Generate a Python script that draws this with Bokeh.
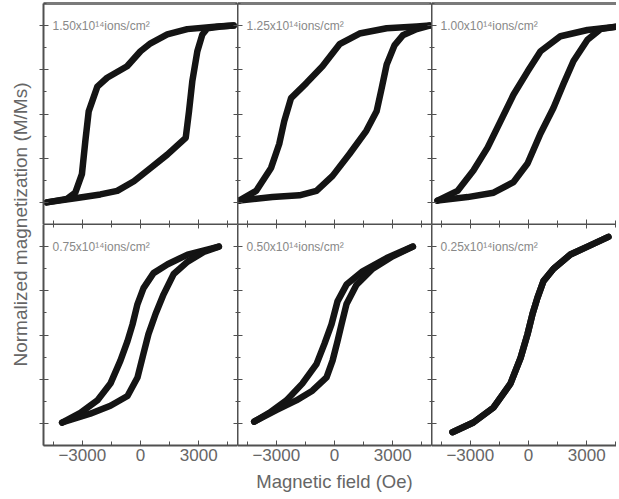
import numpy as np
from bokeh.plotting import figure
from bokeh.layouts import gridplot, row
from bokeh.models import LinearAxis, Range1d, FixedTicker, Label
from bokeh.embed import file_html
from bokeh.resources import INLINE

# ---------------- data ----------------
labels = ["1.50x10\u00b9\u2074ions/cm\u00b2", "1.25x10\u00b9\u2074ions/cm\u00b2", "1.00x10\u00b9\u2074ions/cm\u00b2",
          "0.75x10\u00b9\u2074ions/cm\u00b2", "0.50x10\u00b9\u2074ions/cm\u00b2", "0.25x10\u00b9\u2074ions/cm\u00b2"]

d150_H = [4800, 3970, 2410, 1380, 520, 0, -690, -1720, -2225, -2670, -2845, -3020, -3360, -3790, -4830]
d150_M = [1.0, 0.99, 0.96, 0.90, 0.80, 0.71, 0.54, 0.41, 0.31, 0.03, -0.31, -0.68, -0.89, -0.96, -1.0]
a150_H = [-4830, -3280, -2070, -1200, -340, 520, 1380, 2330, 2500, 2670, 2930, 3190, 3450, 4140, 4800]
a150_M = [-1.0, -0.95, -0.91, -0.87, -0.76, -0.61, -0.46, -0.27, 0.03, 0.37, 0.71, 0.90, 0.97, 0.99, 1.0]

d125_H = [4900, 4240, 2690, 1290, 260, -620, -1450, -2240, -2590, -2850, -3270, -4040, -4910]
d125_M = [1.0, 0.99, 0.97, 0.91, 0.79, 0.54, 0.35, 0.18, -0.08, -0.34, -0.61, -0.87, -0.98]
a125_H = [-4910, -3200, -1810, -930, -100, 780, 1640, 2170, 2430, 2690, 3100, 3520, 4240, 4900]
a125_M = [-0.98, -0.94, -0.92, -0.87, -0.70, -0.45, -0.19, 0.03, 0.29, 0.56, 0.78, 0.89, 0.96, 1.0]

d100_H = [4590, 3040, 1650, 620, -50, -770, -1440, -2110, -2840, -3660, -4690]
d100_M = [0.99, 0.95, 0.88, 0.71, 0.48, 0.22, -0.08, -0.38, -0.64, -0.87, -0.98]
a100_H = [-4690, -3140, -1800, -770, -50, 620, 1290, 1800, 2320, 3040, 3710, 4590]
a100_M = [-0.98, -0.94, -0.89, -0.77, -0.56, -0.22, 0.07, 0.34, 0.60, 0.84, 0.96, 0.99]

d075_H = [4040, 2430, 1400, 670, 155, -155, -410, -670, -1035, -1550, -2225, -3100, -4040]
d075_M = [1.0, 0.91, 0.80, 0.70, 0.53, 0.35, 0.12, -0.07, -0.29, -0.55, -0.74, -0.88, -0.99]
a075_H = [-4040, -2590, -1550, -670, -155, 155, 410, 780, 1190, 1710, 2430, 3260, 4040]
a075_M = [-0.99, -0.89, -0.80, -0.69, -0.48, -0.21, 0.01, 0.24, 0.46, 0.69, 0.83, 0.94, 1.0]

d050_H = [4040, 2690, 1450, 620, 155, -155, -520, -930, -1660, -2480, -3360, -4140]
d050_M = [1.0, 0.87, 0.72, 0.57, 0.38, 0.12, -0.10, -0.33, -0.55, -0.74, -0.88, -0.98]
a050_H = [-4140, -3000, -1970, -1140, -410, -100, 155, 360, 620, 1140, 1970, 3000, 4040]
a050_M = [-0.98, -0.85, -0.74, -0.63, -0.48, -0.29, -0.07, 0.12, 0.35, 0.57, 0.75, 0.89, 1.0]

d025_H = [4120, 3040, 2160, 1290, 770, 460, 210, -50, -410, -930, -1800, -2840, -3920]
d025_M = [1.11, 1.0, 0.91, 0.75, 0.61, 0.42, 0.24, 0.01, -0.26, -0.55, -0.82, -0.99, -1.10]
a025_H = [-3920, -2840, -1800, -930, -410, -50, 210, 460, 770, 1290, 2160, 3040, 4120]
a025_M = [-1.10, -0.99, -0.82, -0.55, -0.26, 0.01, 0.24, 0.42, 0.61, 0.75, 0.91, 1.0, 1.11]

series = [(d150_H, d150_M, a150_H, a150_M), (d125_H, d125_M, a125_H, a125_M),
          (d100_H, d100_M, a100_H, a100_M), (d075_H, d075_M, a075_H, a075_M),
          (d050_H, d050_M, a050_H, a050_M), (d025_H, d025_M, a025_H, a025_M)]

x_major = [-3000, 0, 3000]
x_minor = [-4500, -1500, 1500, 4500]
y_major = [-1.0, -0.5, 0.0, 0.5, 1.0]
y_minor = [-1.25, -0.75, -0.25, 0.25, 0.75, 1.25]

FONT = "Liberation Sans"
AX = "#505050"
TXT = "#666666"
FH = 221
TOP = 3
BOTTOM = 53
FW = [194, 194, 185]
LABW = 39


def hidden_axis(ax):
    ax.major_label_text_font_size = "0px"
    ax.major_label_text_color = None
    ax.major_label_standoff = 0
    ax.axis_label = None


def make_panel(i):
    r, c = divmod(i, 3)
    fw = FW[c]
    p = figure(frame_width=fw, frame_height=FH,
               x_range=Range1d(-5000, -5000 + fw / 194 * 10000),
               y_range=Range1d(-1.25, 1.25),
               x_axis_location=None, y_axis_location=None,
               output_backend="svg", toolbar_location=None,
               min_border=0, outline_line_color=None,
               background_fill_color="white", border_fill_color="white")
    p.xgrid.visible = False
    p.ygrid.visible = False
    p.min_border_left = 4 if c == 0 else 0
    if r == 0:
        p.min_border_top = TOP
    else:
        p.min_border_bottom = BOTTOM

    yt = FixedTicker(ticks=y_major, minor_ticks=y_minor)
    xt = FixedTicker(ticks=x_major, minor_ticks=x_minor)

    la = LinearAxis(ticker=yt, axis_line_color=AX, axis_line_width=2,
                    major_tick_line_color=AX, minor_tick_line_color=AX,
                    major_tick_in=5, major_tick_out=4 if c == 0 else 0,
                    minor_tick_in=3, minor_tick_out=0)
    hidden_axis(la)
    p.add_layout(la, "left")
    if c < 2:
        ra = LinearAxis(ticker=yt, axis_line_color=None,
                        major_tick_line_color=AX, minor_tick_line_color=AX,
                        major_tick_in=4, major_tick_out=0,
                        minor_tick_in=2, minor_tick_out=0)
        hidden_axis(ra)
        p.add_layout(ra, "right")

    ba = LinearAxis(ticker=xt, axis_line_color=AX, axis_line_width=2,
                    major_tick_line_color=AX, minor_tick_line_color=AX,
                    major_tick_in=5, major_tick_out=0,
                    minor_tick_in=4, minor_tick_out=0)
    if r == 1:
        ba.major_label_text_font = FONT
        ba.major_label_text_font_size = "17px"
        ba.major_label_text_color = TXT
        ba.major_label_standoff = 3
        if c == 1:
            ba.axis_label = "Magnetic field (Oe)"
            ba.axis_label_text_font = FONT
            ba.axis_label_text_font_size = "18.5px"
            ba.axis_label_text_font_style = "normal"
            ba.axis_label_text_color = TXT
            ba.axis_label_standoff = 7
    else:
        hidden_axis(ba)
    p.add_layout(ba, "below")

    if r == 0:
        ta = LinearAxis(ticker=xt, axis_line_color="#7a7a7a", axis_line_width=3,
                        major_tick_line_color=None, minor_tick_line_color=None,
                        major_tick_in=0, major_tick_out=0, minor_tick_in=0, minor_tick_out=0)
    else:
        ta = LinearAxis(ticker=xt, axis_line_color=AX, axis_line_width=1,
                        major_tick_line_color=AX, minor_tick_line_color=AX,
                        major_tick_in=4, major_tick_out=0, minor_tick_in=3, minor_tick_out=0)
    hidden_axis(ta)
    p.add_layout(ta, "above")

    dH, dM, aH, aM = series[i]
    for hh, mm in ((dH, dM), (aH, aM)):
        p.line(hh, mm, line_color="#141414", line_width=6.5,
               line_join="round", line_cap="round")

    p.add_layout(Label(x=9, x_units="screen", y=1.0, y_units="data",
                       text=labels[i], text_font=FONT, text_font_size="12px",
                       text_color="#888888", text_baseline="middle", text_align="left"))
    return p


panels = [make_panel(i) for i in range(6)]
grid = gridplot([panels[:3], panels[3:]], toolbar_location=None)

total_h = TOP + FH * 2 + BOTTOM
lab = figure(width=LABW, height=total_h, x_range=(0, 1), y_range=(0, 1),
             output_backend="svg", toolbar_location=None, min_border=0,
             outline_line_color=None, x_axis_location=None, y_axis_location=None)
lab.xgrid.visible = False
lab.ygrid.visible = False
lab.add_layout(Label(x=20, y=BOTTOM + FH, x_units="screen", y_units="screen",
                     angle=np.pi / 2, text="Normalized magnetization (M/Ms)",
                     text_font=FONT, text_font_size="19px", text_color=TXT,
                     text_align="center", text_baseline="middle"))

root = row(lab, grid)
open("out.html", "w").write(file_html(root, INLINE))
